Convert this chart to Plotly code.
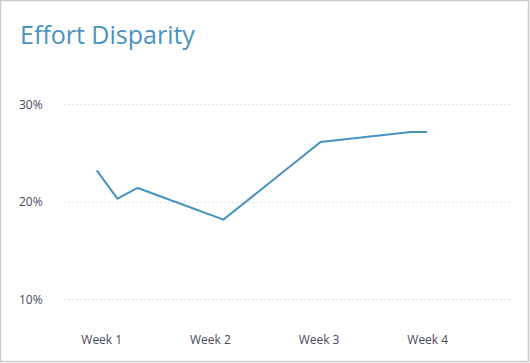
import plotly.graph_objects as go

# data (x in days from Week 1)
days = [-0.32, 1.01, 2.32, 7.84, 14.1, 19.9, 20.95]
effort = [0.2325, 0.2035, 0.2144, 0.1819, 0.2616, 0.2719, 0.2719]
week_pos = [0, 7, 14, 21]
week_labels = ["Week 1", "Week 2", "Week 3", "Week 4"]
y_ticks = [0.10, 0.20, 0.30]

W, H = 530, 363
ml, mr, mt, mb = 64, 20, 85, 44

fig = go.Figure()
fig.add_trace(go.Scatter(
    x=days, y=effort, mode="lines",
    line=dict(color="#4a93c1", width=2),
    hoverinfo="skip", showlegend=False,
))

fig.update_layout(
    width=W, height=H,
    margin=dict(l=ml, r=mr, t=mt, b=mb),
    paper_bgcolor="white", plot_bgcolor="white",
    font=dict(family="Open Sans", size=12, color="#4a4a5e"),
    title=dict(text="Effort Disparity", x=20 / W, xanchor="left",
               y=1 - 35 / H, yanchor="middle",
               font=dict(family="Open Sans", size=25, color="#4a93c1")),
    xaxis=dict(range=[-2.43, 26.3], tickvals=week_pos, ticktext=week_labels,
               showgrid=False, zeroline=False, showline=False,
               ticks="outside", ticklen=10, tickcolor="rgba(0,0,0,0)"),
    yaxis=dict(range=[0.08, 0.32], tickvals=y_ticks, tickformat=".0%",
               showgrid=True, gridcolor="#e4e4e4", griddash="2px,2px", gridwidth=1,
               zeroline=False, showline=False,
               ticks="outside", ticklen=18, tickcolor="rgba(0,0,0,0)"),
    shapes=[dict(type="rect", xref="paper", yref="paper",
                 x0=-(ml - 0.5) / (W - ml - mr), x1=1 + (mr - 1.5) / (W - ml - mr),
                 y0=-(mb - 1.5) / (H - mt - mb), y1=1 + (mt - 0.5) / (H - mt - mb),
                 line=dict(color="#cccccc", width=1.5), layer="below")],
)

fig.write_html("out.html", config={"displayModeBar": False},
               post_script="document.body.style.margin='0';document.body.style.overflow='hidden';")
